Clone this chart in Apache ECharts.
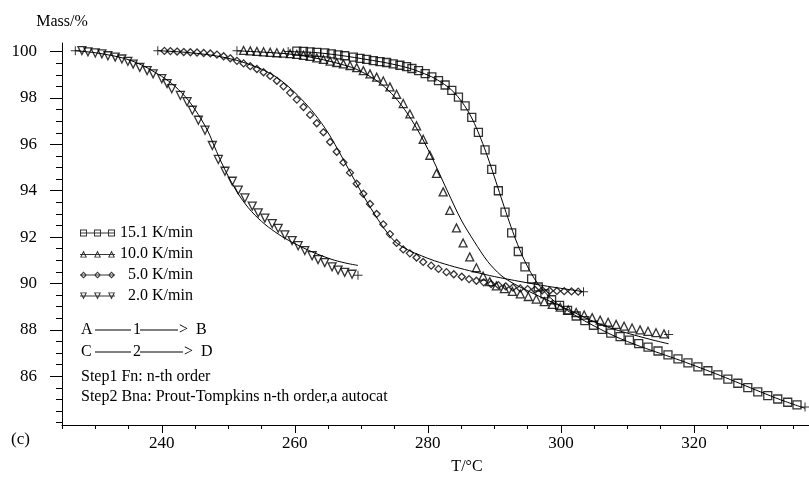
<!DOCTYPE html>
<html>
<head>
<meta charset="utf-8">
<script src="https://cdn.jsdelivr.net/npm/echarts@6/dist/echarts.min.js"></script>
<style>
html,body{margin:0;padding:0;background:#fff;}
#chart{width:809px;height:480px;}
</style>
</head>
<body>
<div id="chart"></div>
<script>
// ---------- data ----------
const seriesNames = ['15.1 K/min', '10.0 K/min', '  5.0 K/min', '  2.0 K/min'];

// 15.1 K/min measured (squares)
const T_15 = [259.0, 260.3, 261.3, 262.3, 263.3, 264.5, 265.5, 266.5, 267.5, 268.8, 269.8, 270.8, 271.8, 272.8, 273.8, 274.8, 275.8, 276.8, 277.6, 278.6, 279.6, 280.6, 281.6, 282.6, 283.6, 284.6, 285.6, 286.6, 287.6, 288.6, 289.6, 290.6, 291.6, 292.6, 293.6, 294.6, 295.6, 296.6, 297.6, 298.6, 299.8, 301.0, 302.3, 303.6, 304.9, 306.2, 307.5, 308.9, 310.3, 311.7, 313.1, 314.6, 316.1, 317.6, 319.1, 320.6, 322.1, 323.6, 325.1, 326.6, 328.1, 329.6, 331.1, 332.6, 334.1, 335.5, 336.7];
const M_15 = [100.0, 100.02, 100.01, 99.99, 99.97, 99.94, 99.90, 99.86, 99.82, 99.76, 99.71, 99.66, 99.61, 99.57, 99.53, 99.47, 99.41, 99.35, 99.27, 99.18, 99.05, 98.91, 98.75, 98.56, 98.33, 98.04, 97.66, 97.16, 96.52, 95.76, 94.92, 94.0, 93.08, 92.18, 91.38, 90.72, 90.2, 89.85, 89.55, 89.3, 89.06, 88.84, 88.6, 88.4, 88.2, 88.02, 87.86, 87.71, 87.56, 87.41, 87.26, 87.09, 86.92, 86.75, 86.58, 86.41, 86.24, 86.06, 85.88, 85.70, 85.51, 85.33, 85.17, 85.02, 84.88, 84.77, 84.68];

// 10.0 K/min measured (triangles up)
const T_10 = [251.3, 252.3, 253.3, 254.3, 255.3, 256.3, 257.3, 258.3, 259.3, 260.3, 261.3, 262.3, 263.3, 264.3, 265.3, 266.3, 267.3, 268.3, 269.3, 270.3, 271.3, 272.3, 273.3, 274.3, 275.3, 276.3, 277.3, 278.3, 279.3, 280.3, 281.3, 282.3, 283.3, 284.3, 285.3, 286.3, 287.3, 288.3, 289.3, 290.3, 291.5, 292.7, 293.9, 295.1, 296.3, 297.5, 298.7, 299.9, 301.1, 302.3, 303.5, 304.7, 305.9, 307.1, 308.3, 309.5, 310.7, 311.9, 313.1, 314.3, 315.5, 316.2];
const M_10 = [100.04, 100.05, 100.03, 100.01, 99.99, 99.97, 99.95, 99.93, 99.91, 99.88, 99.84, 99.79, 99.73, 99.66, 99.59, 99.53, 99.47, 99.40, 99.31, 99.18, 99.04, 98.90, 98.73, 98.48, 98.16, 97.76, 97.31, 96.80, 96.22, 95.53, 94.75, 93.95, 93.15, 92.40, 91.75, 91.15, 90.68, 90.32, 90.08, 89.90, 89.78, 89.66, 89.55, 89.44, 89.33, 89.22, 89.10, 88.98, 88.86, 88.75, 88.64, 88.53, 88.42, 88.33, 88.24, 88.16, 88.08, 88.00, 87.94, 87.88, 87.83, 87.80];

// 5.0 K/min measured (diamonds)
const T_5 = [239.4, 240.4, 241.3, 242.3, 243.3, 244.3, 245.3, 246.3, 247.3, 248.3, 249.3, 250.3, 251.3, 252.3, 253.3, 254.3, 255.3, 256.3, 257.3, 258.3, 259.3, 260.3, 261.3, 262.3, 263.3, 264.3, 265.3, 266.3, 267.3, 268.3, 269.3, 270.3, 271.3, 272.3, 273.3, 274.3, 275.3, 276.3, 277.3, 278.3, 279.3, 280.5, 281.6, 282.8, 283.9, 285.1, 286.2, 287.3, 288.4, 289.5, 290.6, 291.7, 292.8, 293.9, 295.0, 296.1, 297.2, 298.3, 299.4, 300.5, 301.6, 302.6, 303.4];
const M_5 = [100.04, 100.03, 100.02, 100.0, 99.98, 99.97, 99.96, 99.94, 99.92, 99.87, 99.80, 99.71, 99.60, 99.49, 99.37, 99.25, 99.11, 98.95, 98.74, 98.50, 98.22, 97.93, 97.61, 97.27, 96.91, 96.52, 96.10, 95.68, 95.22, 94.78, 94.30, 93.87, 93.43, 93.0, 92.55, 92.13, 91.75, 91.47, 91.30, 91.12, 90.93, 90.77, 90.63, 90.49, 90.40, 90.29, 90.19, 90.12, 90.05, 89.98, 89.93, 89.88, 89.83, 89.79, 89.76, 89.73, 89.71, 89.69, 89.68, 89.67, 89.66, 89.65, 89.65];

// 2.0 K/min measured (triangles down)
const T_2 = [227.0, 228.0, 228.9, 230.0, 231.0, 231.9, 233.0, 234.0, 234.9, 235.7, 236.7, 237.8, 238.7, 240.0, 240.8, 241.5, 242.8, 243.8, 244.6, 245.5, 246.5, 247.6, 248.5, 249.5, 250.6, 251.5, 252.5, 253.6, 254.5, 255.5, 256.6, 257.5, 258.5, 259.6, 260.5, 261.5, 262.6, 263.5, 264.5, 265.6, 266.5, 267.5, 268.6, 269.5];
const M_2 = [100.04, 100.04, 99.99, 99.94, 99.90, 99.82, 99.76, 99.68, 99.58, 99.46, 99.32, 99.18, 99.04, 98.83, 98.62, 98.40, 98.11, 97.84, 97.47, 97.04, 96.61, 95.95, 95.35, 94.84, 94.41, 94.03, 93.69, 93.34, 93.05, 92.82, 92.58, 92.38, 92.10, 91.85, 91.63, 91.42, 91.20, 91.03, 90.90, 90.72, 90.58, 90.48, 90.40, 90.36];

// fitted curves (solid lines)
const FT_15 = [259, 263, 267, 271, 274, 277, 279, 281, 283, 284, 285, 286, 287, 288, 289, 290, 291, 292, 293, 294, 295, 296, 297, 298, 299, 300, 302, 304, 306, 308, 310, 312, 315, 318, 321, 324, 327, 330, 333, 336.7];
const FM_15 = [100.0, 99.96, 99.83, 99.65, 99.5, 99.3, 99.1, 98.85, 98.48, 98.22, 97.88, 97.45, 96.9, 96.22, 95.45, 94.6, 93.72, 92.86, 92.05, 91.33, 90.72, 90.22, 89.82, 89.5, 89.24, 89.02, 88.65, 88.32, 88.02, 87.74, 87.5, 87.28, 86.98, 86.68, 86.36, 86.03, 85.68, 85.33, 84.99, 84.62];

const FT_10 = [251.3, 255, 259, 262, 265, 267, 269, 271, 273, 275, 277, 279, 281, 283, 285, 287, 289, 291, 293, 296, 299, 302, 305, 308, 311, 314, 316.2];
const FM_10 = [100.03, 99.98, 99.9, 99.78, 99.6, 99.45, 99.27, 98.98, 98.6, 98.05, 97.3, 96.35, 95.2, 93.95, 92.75, 91.8, 90.95, 90.35, 89.98, 89.55, 89.15, 88.75, 88.35, 88.03, 87.78, 87.55, 87.4];

const FT_5 = [239.4, 243, 246, 249, 252, 255, 257, 259, 261, 263, 265, 267, 269, 271, 273, 275, 277, 279, 281, 284, 287, 290, 294, 298, 303.4];
const FM_5 = [100.04, 99.98, 99.9, 99.77, 99.56, 99.24, 98.94, 98.5, 97.95, 97.3, 96.5, 95.5, 94.45, 93.45, 92.55, 91.82, 91.45, 91.2, 90.98, 90.72, 90.5, 90.3, 90.08, 89.88, 89.65];

const FT_2 = [227, 230, 233, 235, 237, 238, 239, 240, 241, 242, 243, 244, 245, 246, 247, 248, 249, 250, 251, 252, 253, 254, 255, 256, 257, 258, 259, 260, 262, 264, 266, 268, 269.5];
const FM_2 = [100.04, 99.95, 99.8, 99.65, 99.42, 99.27, 99.1, 98.93, 98.73, 98.5, 98.22, 97.9, 97.5, 97.05, 96.53, 95.85, 95.2, 94.62, 94.1, 93.65, 93.27, 92.95, 92.68, 92.44, 92.23, 92.04, 91.87, 91.72, 91.44, 91.2, 91.0, 90.86, 90.78];

// tick labels
const xLabelValues = [240, 260, 280, 300, 320];
const yLabelValues = [86, 88, 90, 92, 94, 96, 98, 100];

// ---------- chart ----------
const FONT = 'Liberation Serif';
const xMinorTicks = []; for (let v = 225; v <= 337; v += 5) xMinorTicks.push(v);
const yMinorTicks = []; for (let v = 84; v <= 100.01; v += 0.5) yMinorTicks.push(+v.toFixed(1));

const CROSS = 'path://M0,4h9v1h-9zM4,0h1v9h-1z';

function markerData(T, M) {
  const last = T.length - 1;
  return T.map((t, i) => {
    if (i === 0 || i === last) {
      return { value: [t, M[i]], symbol: CROSS, symbolSize: 9, symbolRotate: 0,
               itemStyle: { color: '#000', borderWidth: 0 } };
    }
    return { value: [t, M[i]] };
  });
}
function lineData(T, M) { return T.map((t, i) => [t, M[i]]); }

const markerStyle = { color: 'rgba(255,255,255,0)', borderColor: '#000', borderWidth: 1.3 };

function scatter(name, T, M, symbol, size, rotate) {
  return {
    name, type: 'scatter', xAxisIndex: 0, yAxisIndex: 0,
    symbol, symbolSize: size, symbolRotate: rotate || 0,
    itemStyle: markerStyle, z: 3,
    data: markerData(T, M),
    silent: true
  };
}
function fit(T, M) {
  return {
    type: 'line', xAxisIndex: 0, yAxisIndex: 0, showSymbol: false, smooth: 0.3,
    lineStyle: { color: '#000', width: 1 }, z: 2, silent: true,
    data: lineData(T, M)
  };
}

// legend icons (three hollow markers joined by a line)
const ICON_SQ = 'path://M0,0H7V7H0ZM1,1V6H6V1ZM14,0H21V7H14ZM15,1V6H20V1ZM28,0H35V7H28ZM29,1V6H34V1ZM0,3H35V4H0Z';
const ICON_TU = 'path://M3.5,0L7,7L0,7ZM3.5,2.3L1.6,6.2L5.4,6.2ZM17.5,0L21,7L14,7ZM17.5,2.3L15.6,6.2L19.4,6.2ZM31.5,0L35,7L28,7ZM31.5,2.3L29.6,6.2L33.4,6.2ZM0,3.5H35V4.5H0Z';
const ICON_DI = 'path://M3.5,0L7,3.5L3.5,7L0,3.5ZM3.5,1.4L1.4,3.5L3.5,5.6L5.6,3.5ZM17.5,0L21,3.5L17.5,7L14,3.5ZM17.5,1.4L15.4,3.5L17.5,5.6L19.6,3.5ZM31.5,0L35,3.5L31.5,7L28,3.5ZM31.5,1.4L29.4,3.5L31.5,5.6L33.6,3.5ZM0,3H35V4H0Z';
const ICON_TD = 'path://M0,0L7,0L3.5,7ZM1.6,0.8L3.5,4.7L5.4,0.8ZM14,0L21,0L17.5,7ZM15.6,0.8L17.5,4.7L19.4,0.8ZM28,0L35,0L31.5,7ZM29.6,0.8L31.5,4.7L33.4,0.8ZM0,3H35V4H0Z';
const legendIcons = [ICON_SQ, ICON_TU, ICON_DI, ICON_TD];

const chart = echarts.init(document.getElementById('chart'), null, { renderer: 'canvas' });

const txt = (text, x, y, size) => ({
  type: 'text', x, y, silent: true,
  style: { text, font: (size || 16) + 'px "' + FONT + '"', fill: '#000', textVerticalAlign: 'middle' }
});
const seg = (x1, x2, y) => ({
  type: 'line', silent: true, shape: { x1, y1: y, x2, y2: y },
  style: { stroke: '#000', lineWidth: 1 }
});

chart.setOption({
  animation: false,
  backgroundColor: '#fff',
  textStyle: { fontFamily: FONT, color: '#000' },
  grid: { left: 62, top: 43, right: 0, bottom: 52, containLabel: false },
  legend: {
    orient: 'vertical', left: 75, top: 220, itemWidth: 35, itemHeight: 7, itemGap: 5,
    textStyle: { fontFamily: FONT, fontSize: 16, color: '#000' },
    selectedMode: false,
    data: seriesNames.map((n, i) => ({ name: n, icon: legendIcons[i], itemStyle: { color: '#000', borderWidth: 0 } }))
  },
  xAxis: [
    {
      type: 'value', position: 'bottom', min: 225, max: 337.3,
      axisLine: { show: true, lineStyle: { color: '#000', width: 1 } },
      axisTick: { show: true, length: 4, customValues: xMinorTicks, lineStyle: { color: '#000' } },
      axisLabel: { show: false }, splitLine: { show: false }
    },
    {
      type: 'value', position: 'bottom', min: 225, max: 337.3,
      axisLine: { show: false },
      axisTick: { show: true, length: 8, customValues: xLabelValues, lineStyle: { color: '#000' } },
      axisLabel: { show: true, customValues: xLabelValues, margin: 10, fontSize: 17, fontFamily: FONT, color: '#000' },
      splitLine: { show: false },
      name: 'T/°C', nameLocation: 'middle', nameGap: 34,
      nameTextStyle: { fontFamily: FONT, fontSize: 16, color: '#000', padding: [0, 0, 0, 63] }
    }
  ],
  yAxis: [
    {
      type: 'value', position: 'left', min: 83.9, max: 100.37,
      axisLine: { show: true, lineStyle: { color: '#000', width: 1 } },
      axisTick: { show: true, length: 6, customValues: yMinorTicks, lineStyle: { color: '#000' } },
      axisLabel: { show: false }, splitLine: { show: false },
      name: 'Mass/%', nameLocation: 'end', nameGap: 13,
      nameTextStyle: { fontFamily: FONT, fontSize: 16, color: '#000' }
    },
    {
      type: 'value', position: 'left', min: 83.9, max: 100.37,
      axisLine: { show: false },
      axisTick: { show: true, length: 12, customValues: yLabelValues, lineStyle: { color: '#000' } },
      axisLabel: { show: true, customValues: yLabelValues, margin: 25, fontSize: 17, fontFamily: FONT, color: '#000' },
      splitLine: { show: false }
    }
  ],
  graphic: [
    txt('A', 81, 330), seg(95, 131, 330), txt('1', 133, 330), seg(140, 178, 330), txt('>  B', 179, 330),
    txt('C', 81, 352), seg(95, 131, 352), txt('2', 133, 352), seg(140, 183, 352), txt('>  D', 184, 352),
    txt('Step1 Fn: n-th order', 81, 377),
    txt('Step2 Bna: Prout-Tompkins n-th order,a autocat', 81, 397),
    txt('(c)', 11, 440, 17)
  ],
  series: [
    fit(FT_15, FM_15), fit(FT_10, FM_10), fit(FT_5, FM_5), fit(FT_2, FM_2),
    scatter(seriesNames[0], T_15, M_15, 'rect', 8),
    scatter(seriesNames[1], T_10, M_10, 'triangle', 8),
    scatter(seriesNames[2], T_5, M_5, 'diamond', 7),
    scatter(seriesNames[3], T_2, M_2, 'triangle', 8, 180)
  ]
});
</script>
</body>
</html>
